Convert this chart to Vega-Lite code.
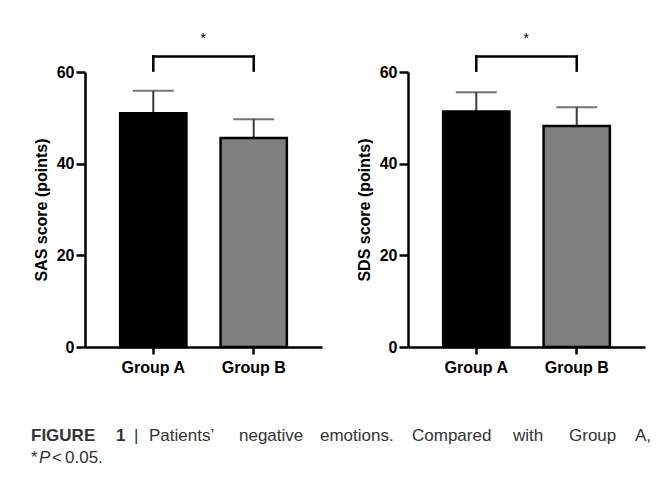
{
  "$schema": "https://vega.github.io/schema/vega-lite/v6.json",
  "background": "white",
  "padding": {"left": 31, "top": 31, "right": 5, "bottom": 0},
  "datasets": {
    "sas": [
      {"group": "Group A", "mean": 51.0, "upper": 55.9},
      {"group": "Group B", "mean": 45.6, "upper": 49.7}
    ],
    "sds": [
      {"group": "Group A", "mean": 51.4, "upper": 55.6},
      {"group": "Group B", "mean": 48.2, "upper": 52.3}
    ],
    "bracket": [
      {"from": "Group A", "to": "Group B", "top": 63.4, "foot": 60.3, "star": 67.3, "label": "*"}
    ],
    "feet": [
      {"group": "Group A", "top": 63.4, "foot": 60.3},
      {"group": "Group B", "top": 63.4, "foot": 60.3}
    ],
    "caption": [
      {"figure": "FIGURE 1"}
    ]
  },
  "vconcat": [
    {
      "hconcat": [
        {
          "width": 237,
          "height": 275,
          "layer": [
            {
              "data": {"name": "sas"},
              "mark": {"type": "rule", "color": "#3a3a3a", "strokeWidth": 2},
              "encoding": {
                "x": {"field": "group", "type": "nominal"},
                "y": {"field": "mean", "type": "quantitative"},
                "y2": {"field": "upper"}
              }
            },
            {
              "data": {"name": "sas"},
              "mark": {"type": "tick", "color": "#3a3a3a", "thickness": 2, "size": 41, "orient": "horizontal"},
              "encoding": {
                "x": {"field": "group", "type": "nominal"},
                "y": {"field": "upper", "type": "quantitative"}
              }
            },
            {
              "data": {"name": "sas"},
              "mark": {"type": "bar", "stroke": "#000000", "strokeWidth": 2.5},
              "encoding": {
                "x": {
                  "field": "group", "type": "nominal", "title": null,
                  "scale": {"paddingInner": 0.34, "paddingOuter": 0.35}
                },
                "y": {
                  "field": "mean", "type": "quantitative",
                  "scale": {"domain": [0, 60]},
                  "axis": {"values": [0, 20, 40, 60]},
                  "title": "SAS score (points)"
                },
                "color": {
                  "field": "group", "type": "nominal", "legend": null,
                  "scale": {"domain": ["Group A", "Group B"], "range": ["#000000", "#808080"]}
                }
              }
            },
            {
              "data": {"name": "bracket"},
              "mark": {"type": "rule", "color": "#000000", "strokeWidth": 2.5, "strokeCap": "square"},
              "encoding": {
                "x": {"field": "from", "type": "nominal"},
                "x2": {"field": "to"},
                "y": {"field": "top", "type": "quantitative"}
              }
            },
            {
              "data": {"name": "feet"},
              "mark": {"type": "rule", "color": "#000000", "strokeWidth": 2.5, "strokeCap": "square"},
              "encoding": {
                "x": {"field": "group", "type": "nominal"},
                "y": {"field": "foot", "type": "quantitative"},
                "y2": {"field": "top"}
              }
            },
            {
              "data": {"name": "bracket"},
              "mark": {"type": "text", "align": "center", "baseline": "middle", "fontSize": 14, "dx": 50, "color": "#000000"},
              "encoding": {
                "x": {"field": "from", "type": "nominal"},
                "y": {"field": "star", "type": "quantitative"},
                "text": {"field": "label"}
              }
            }
          ]
        },
        {
          "width": 237,
          "height": 275,
          "layer": [
            {
              "data": {"name": "sds"},
              "mark": {"type": "rule", "color": "#3a3a3a", "strokeWidth": 2},
              "encoding": {
                "x": {"field": "group", "type": "nominal"},
                "y": {"field": "mean", "type": "quantitative"},
                "y2": {"field": "upper"}
              }
            },
            {
              "data": {"name": "sds"},
              "mark": {"type": "tick", "color": "#3a3a3a", "thickness": 2, "size": 41, "orient": "horizontal"},
              "encoding": {
                "x": {"field": "group", "type": "nominal"},
                "y": {"field": "upper", "type": "quantitative"}
              }
            },
            {
              "data": {"name": "sds"},
              "mark": {"type": "bar", "stroke": "#000000", "strokeWidth": 2.5},
              "encoding": {
                "x": {
                  "field": "group", "type": "nominal", "title": null,
                  "scale": {"paddingInner": 0.34, "paddingOuter": 0.35}
                },
                "y": {
                  "field": "mean", "type": "quantitative",
                  "scale": {"domain": [0, 60]},
                  "axis": {"values": [0, 20, 40, 60]},
                  "title": "SDS score (points)"
                },
                "color": {
                  "field": "group", "type": "nominal", "legend": null,
                  "scale": {"domain": ["Group A", "Group B"], "range": ["#000000", "#808080"]}
                }
              }
            },
            {
              "data": {"name": "bracket"},
              "mark": {"type": "rule", "color": "#000000", "strokeWidth": 2.5, "strokeCap": "square"},
              "encoding": {
                "x": {"field": "from", "type": "nominal"},
                "x2": {"field": "to"},
                "y": {"field": "top", "type": "quantitative"}
              }
            },
            {
              "data": {"name": "feet"},
              "mark": {"type": "rule", "color": "#000000", "strokeWidth": 2.5, "strokeCap": "square"},
              "encoding": {
                "x": {"field": "group", "type": "nominal"},
                "y": {"field": "foot", "type": "quantitative"},
                "y2": {"field": "top"}
              }
            },
            {
              "data": {"name": "bracket"},
              "mark": {"type": "text", "align": "center", "baseline": "middle", "fontSize": 14, "dx": 50, "color": "#000000"},
              "encoding": {
                "x": {"field": "from", "type": "nominal"},
                "y": {"field": "star", "type": "quantitative"},
                "text": {"field": "label"}
              }
            }
          ]
        }
      ],
      "spacing": 34
    },
    {
      "width": 560,
      "height": 50,
      "data": {"name": "caption"},
      "layer": [
        {"mark": {"type": "text", "text": "FIGURE", "fontWeight": "bold", "x": -54, "y": 16}},
        {"mark": {"type": "text", "text": "1", "fontWeight": "bold", "x": 31, "y": 16}},
        {"mark": {"type": "text", "text": "|", "x": 49, "y": 16}},
        {"mark": {"type": "text", "text": "Patients\u2019", "x": 64, "y": 16}},
        {"mark": {"type": "text", "text": "negative", "x": 154, "y": 16}},
        {"mark": {"type": "text", "text": "emotions.", "x": 235, "y": 16}},
        {"mark": {"type": "text", "text": "Compared", "x": 327, "y": 16}},
        {"mark": {"type": "text", "text": "with", "x": 428, "y": 16}},
        {"mark": {"type": "text", "text": "Group", "x": 484, "y": 16}},
        {"mark": {"type": "text", "text": "A,", "x": 550, "y": 16}},
        {"mark": {"type": "text", "text": "*", "x": -54, "y": 38}},
        {"mark": {"type": "text", "text": "P", "fontStyle": "italic", "x": -46, "y": 38}},
        {"mark": {"type": "text", "text": "<", "x": -33, "y": 38}},
        {"mark": {"type": "text", "text": "0.05.", "x": -20, "y": 38}}
      ]
    }
  ],
  "spacing": 50,
  "config": {
    "font": "Liberation Sans",
    "view": {"stroke": null},
    "text": {"align": "left", "baseline": "alphabetic", "fontSize": 17, "color": "#333333"},
    "axis": {
      "grid": false,
      "domainColor": "#000000",
      "domainWidth": 2.5,
      "tickColor": "#000000",
      "tickWidth": 2.5,
      "labelFont": "Liberation Sans",
      "labelFontWeight": "bold",
      "labelFontSize": 16,
      "labelColor": "#000000",
      "titleFont": "Liberation Sans",
      "titleFontWeight": "bold",
      "titleFontSize": 16,
      "titleColor": "#000000"
    },
    "axisY": {"tickSize": 9, "labelPadding": 2, "titlePadding": 7},
    "axisX": {"tickSize": 7, "labelPadding": 5, "labelAngle": 0}
  }
}
